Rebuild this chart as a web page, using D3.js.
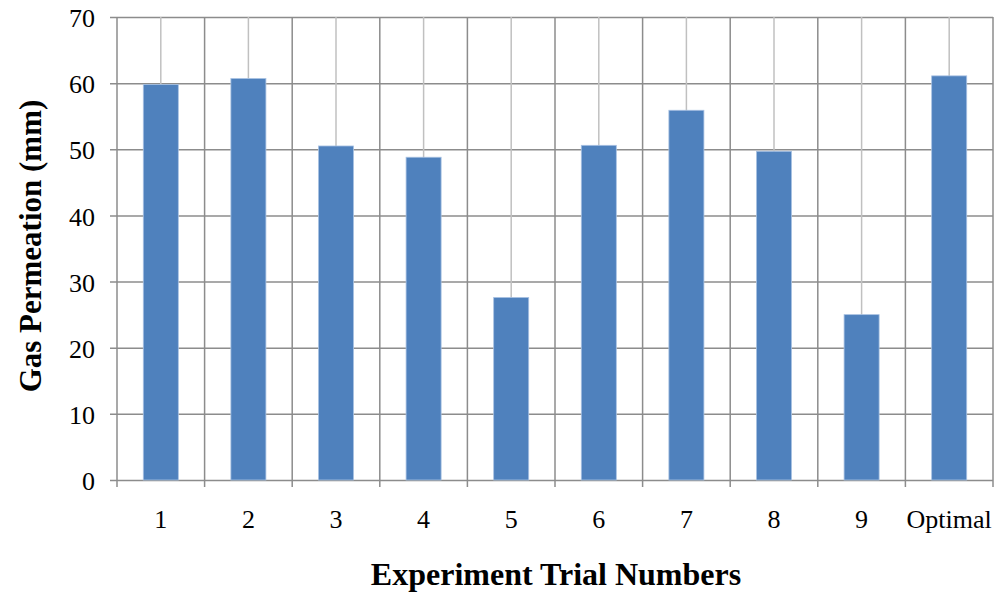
<!DOCTYPE html>
<html>
<head>
<meta charset="utf-8">
<script src="https://cdn.jsdelivr.net/npm/d3@7"></script>
<style>
  body { margin: 0; background: #fff; }
  svg text { font-family: "Liberation Serif", "Times New Roman", serif; fill: #000; }
</style>
</head>
<body>
<svg id="chart"></svg>
<script>
const categories = ["1", "2", "3", "4", "5", "6", "7", "8", "9", "Optimal"];
const permeation = [59.8, 60.7, 50.5, 48.8, 27.6, 50.6, 55.9, 49.7, 25.0, 61.1];
const yTicks = [0, 10, 20, 30, 40, 50, 60, 70];

const width = 1000, height = 595;
const margin = { top: 17, right: 7, bottom: 115, left: 117 };
const svg = d3.select("#chart").attr("width", width).attr("height", height);

const x = d3.scaleBand()
  .domain(categories)
  .range([margin.left, width - margin.right]);
const y = d3.scaleLinear()
  .domain([0, 70])
  .range([height - margin.bottom, margin.top]);

const g = svg.append("g");

// horizontal gridlines with small ticks to the left
g.selectAll(".hgrid")
  .data(yTicks)
  .join("line")
  .attr("x1", margin.left - 7)
  .attr("x2", width - margin.right)
  .attr("y1", (d) => y(d) + 0.5)
  .attr("y2", (d) => y(d) + 0.5)
  .attr("stroke", "#8c8c8c")
  .attr("stroke-width", 1.5);

// light lines through category centres
g.selectAll(".cgrid")
  .data(categories)
  .join("line")
  .attr("x1", (d) => x(d) + x.bandwidth() / 2)
  .attr("x2", (d) => x(d) + x.bandwidth() / 2)
  .attr("y1", y(70))
  .attr("y2", y(0))
  .attr("stroke", "#c0c0c0")
  .attr("stroke-width", 1.5);

// darker lines at category boundaries, with ticks below axis
const bounds = categories.map((d) => x(d)).concat([x(categories[9]) + x.bandwidth()]);
g.selectAll(".bgrid")
  .data(bounds)
  .join("line")
  .attr("x1", (d) => d)
  .attr("x2", (d) => d)
  .attr("y1", y(70))
  .attr("y2", y(0) + 7)
  .attr("stroke", "#8c8c8c")
  .attr("stroke-width", 1.5);

// bars
const barW = x.bandwidth() * 0.4;
g.selectAll(".bar")
  .data(permeation)
  .join("rect")
  .attr("x", (d, i) => x(categories[i]) + x.bandwidth() / 2 - barW / 2)
  .attr("y", (d) => y(d))
  .attr("width", barW)
  .attr("height", (d) => y(0) - y(d))
  .attr("fill", "#4f81bd")
  .attr("stroke", "#a9c2e3")
  .attr("stroke-width", 0.8);

// y tick labels
g.selectAll(".ylab")
  .data(yTicks)
  .join("text")
  .attr("x", 95)
  .attr("y", (d) => y(d) + 1)
  .attr("dy", "0.35em")
  .attr("text-anchor", "end")
  .style("font-size", "26px")
  .text((d) => d);

// x tick labels
g.selectAll(".xlab")
  .data(categories)
  .join("text")
  .attr("x", (d) => x(d) + x.bandwidth() / 2)
  .attr("y", 528)
  .attr("text-anchor", "middle")
  .style("font-size", "26px")
  .text((d) => d);

// axis titles
svg.append("text")
  .attr("x", 556)
  .attr("y", 585)
  .attr("text-anchor", "middle")
  .style("font-size", "32px")
  .style("font-weight", "bold")
  .text("Experiment Trial Numbers");

svg.append("text")
  .attr("transform", "translate(41,246) rotate(-90)")
  .attr("text-anchor", "middle")
  .style("font-size", "31px")
  .style("font-weight", "bold")
  .text("Gas Permeation (mm)");
</script>
</body>
</html>
